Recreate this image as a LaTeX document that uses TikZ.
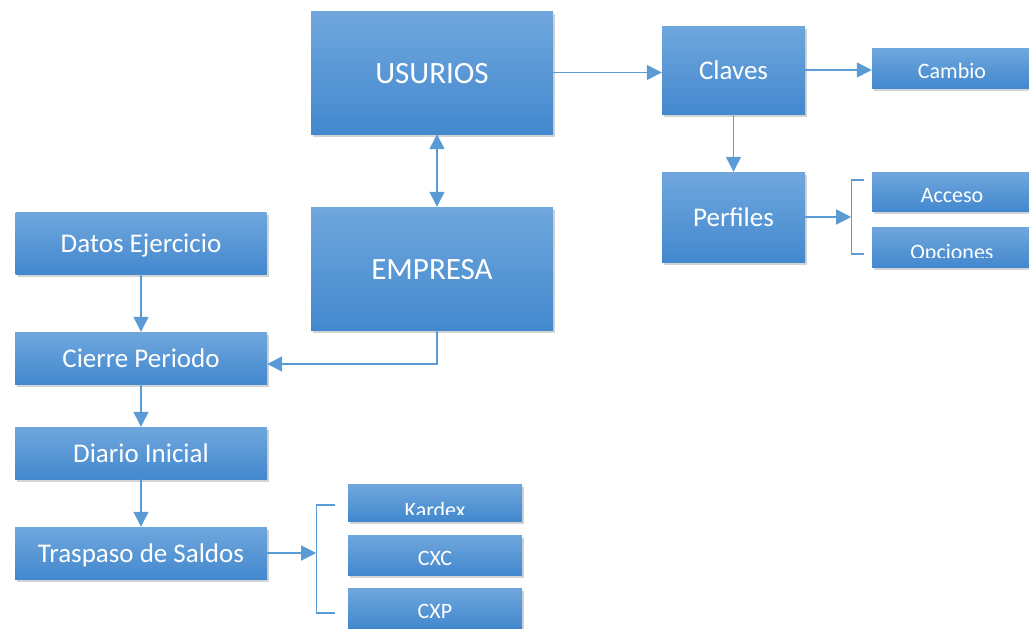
\documentclass[tikz,border=0pt]{standalone}
\usepackage{fontspec}
\setmainfont{Carlito}
\usetikzlibrary{calc,positioning,arrows.meta,shadows}

\definecolor{cajaArriba}{HTML}{6FA7DD}
\definecolor{cajaAbajo}{HTML}{4388CE}
\definecolor{linea}{HTML}{5B9BD5}

\tikzset{
  caja/.style={rectangle, inner sep=0pt, draw=none, text=white,
    top color=cajaArriba, bottom color=cajaAbajo,
    drop shadow={opacity=0.35, shadow xshift=2pt, shadow yshift=-3pt}},
  grande/.style={caja, font=\fontsize{31}{37}\selectfont, text height=21pt, text depth=0pt},
  media/.style={caja, font=\fontsize{27}{32}\selectfont, text height=19.5pt, text depth=0pt},
  chica/.style={caja, font=\fontsize{22}{26}\selectfont, text height=21.5pt, text depth=0pt},
  % text cut at the lower edge of the box
  cortada/.style n args={3}{chica, path picture={
      \clip (path picture bounding box.north west) rectangle ([yshift=#2]path picture bounding box.south east);
      \node[text=white, text height=14pt, text depth=0pt] at ([yshift=-#1]path picture bounding box.center) {#3};}},
  flecha/.style={draw=linea, line width=1.3pt, -{Triangle[length=15pt,width=15pt]}},
  llave/.style={draw=linea, line width=1.3pt},
}

\begin{document}
\begin{tikzpicture}[x=1pt, y=-1pt]
  \useasboundingbox (0,0) rectangle (1029,629);

  % usuarios
  \node[grande, minimum width=242, minimum height=123] (usurios) at (432,72.5) {USURIOS};
  \node[grande, minimum width=242, minimum height=123] (empresa) at (432,268.5) {EMPRESA};
  \node[media, minimum width=143, minimum height=88] (claves) at (733.5,70) {Claves};
  \node[media, minimum width=143, minimum height=90] (perfiles) at (733.5,217) {Perfiles};
  \node[chica, minimum width=160, minimum height=40] (cambio) at (952,68) {Cambio};
  \node[chica, minimum width=160, minimum height=39] (acceso) at (952,191.5) {Acceso};
  \node[cortada={5pt}{10pt}{Opciones}, minimum width=160, minimum height=40] (opciones) at (952,247) {};

  % ejercicio
  \node[media, minimum width=251, minimum height=62] (datos) at (141,243) {Datos Ejercicio};
  \node[media, minimum width=252, minimum height=52] (cierre) at (141,358) {Cierre Periodo};
  \node[media, minimum width=252, minimum height=52] (diario) at (141,453) {Diario Inicial};
  \node[media, minimum width=252, minimum height=52] (traspaso) at (141,553) {Traspaso de Saldos};
  \node[cortada={7.5pt}{7pt}{Kardex}, minimum width=174, minimum height=37] (kardex) at (435,502.5) {};
  \node[chica, minimum width=174, minimum height=40] (cxc) at (435,555) {CXC};
  \node[chica, minimum width=174, minimum height=40] (cxp) at (435,608) {CXP};

  \coordinate (llaveP) at ($(perfiles.east)+(46,0)$);
  \coordinate (llaveT) at ($(traspaso.east)+(49,0)$);

  \draw[flecha] (usurios.east) -- (claves.west |- usurios.east);
  \draw[flecha] (claves.east) -- (cambio.west |- claves.east);
  \draw[flecha] (claves) -- (perfiles);
  \draw[flecha, {Triangle[length=15pt,width=15pt]}-{Triangle[length=15pt,width=15pt]}]
    ([xshift=5pt]usurios.south) -- ([xshift=5pt]empresa.north);
  \draw[flecha] ([xshift=5pt]empresa.south) |- ([yshift=-6pt]cierre.east);
  \draw[flecha] (datos) -- (cierre);
  \draw[flecha] (cierre) -- (diario);
  \draw[flecha] (diario) -- (traspaso);

  \draw[flecha] (perfiles.east) -- (llaveP);
  \draw[llave] ($(llaveP)+(13,-37)$) -- ++(-13,0) -- ++(0,74) -- ++(13,0);
  \draw[flecha] (traspaso.east) -- (llaveT);
  \draw[llave] ($(llaveT)+(19,-48)$) -- ++(-19,0) -- ++(0,108) -- ++(19,0);
\end{tikzpicture}
\end{document}
